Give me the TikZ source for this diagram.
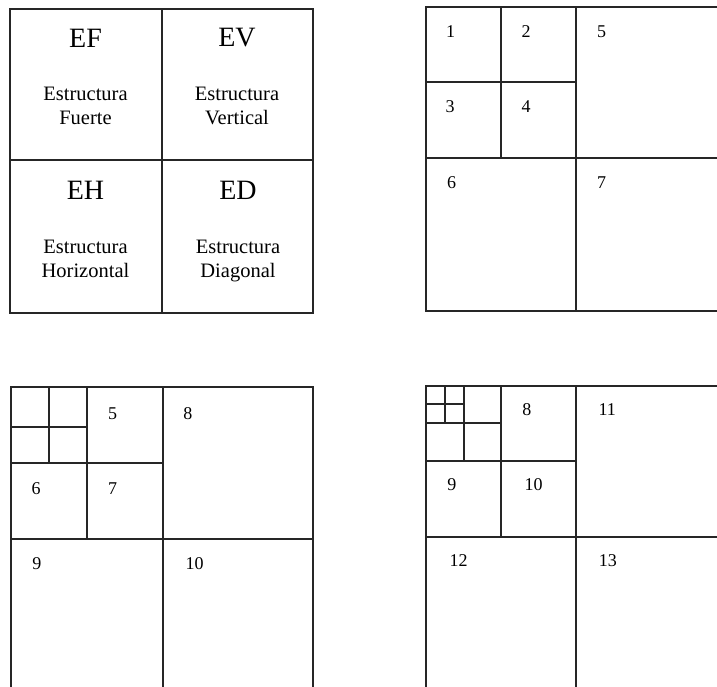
\documentclass[tikz,border=0pt]{standalone}
\usepackage{fontspec}
\setmainfont{Liberation Serif}
\begin{document}
\begin{tikzpicture}[x=1pt,y=-1pt,
  gridline/.style={line width=2pt, line cap=rect, draw=black!85},
  big/.style={font=\fontsize{28}{28}\selectfont, inner sep=0pt},
  sub/.style={font=\fontsize{20.5}{24}\selectfont, align=center, inner sep=0pt, anchor=north},
  num/.style={font=\fontsize{18}{18}\selectfont, anchor=west, inner sep=0pt}]
\clip (0,0) rectangle (717,686);
\fill[white] (0,0) rectangle (717,686);
% ---- top-left: four structures
\draw[gridline] (10,9) rectangle (313,313);
\draw[gridline] (162,9) -- (162,313);
\draw[gridline] (10,160) -- (313,160);
\node[big] (ef) at (85.5,38) {EF};
\node[big] (ev) at (237,38) {EV};
\node[big] (eh) at (85.5,190) {EH};
\node[big] (ed) at (238,190) {ED};
\node[sub] (ef2) at (85.5,87) {Estructura\\Fuerte};
\node[sub] (ev2) at (237,87) {Estructura\\Vertical};
\node[sub] (eh2) at (85.5,239.5) {Estructura\\Horizontal};
\node[sub] (ed2) at (238,239.5) {Estructura\\Diagonal};
% ---- top-right
\draw[gridline] (426,7) rectangle (726,311);
\draw[gridline] (576,7) -- (576,311);
\draw[gridline] (426,158) -- (726,158);
\draw[gridline] (501,7) -- (501,158);
\draw[gridline] (426,82) -- (576,82);
\node[num] (a1) at (446,32) {1};
\node[num] (a2) at (521.5,32) {2};
\node[num] (a5) at (597,32) {5};
\node[num] (a3) at (445.5,107) {3};
\node[num] (a4) at (521.5,107) {4};
\node[num] (a6) at (447,182.7) {6};
\node[num] (a7) at (597,182.7) {7};
% ---- bottom-left
\draw[gridline] (11,387) rectangle (313,690);
\draw[gridline] (163,387) -- (163,690);
\draw[gridline] (11,539) -- (313,539);
\draw[gridline] (87,387) -- (87,539);
\draw[gridline] (11,463) -- (163,463);
\draw[gridline] (49,387) -- (49,463);
\draw[gridline] (11,427) -- (87,427);
\node[num] (b5) at (107.8,413.3) {5};
\node[num] (b8) at (183.2,413.3) {8};
\node[num] (b6) at (31.5,488.3) {6};
\node[num] (b7) at (107.8,488.3) {7};
\node[num] (b9) at (32.2,563.3) {9};
\node[num] (b10) at (185.3,563.3) {10};
% ---- bottom-right
\draw[gridline] (426,386) rectangle (726,690);
\draw[gridline] (576,386) -- (576,690);
\draw[gridline] (426,537) -- (726,537);
\draw[gridline] (501,386) -- (501,537);
\draw[gridline] (426,461) -- (576,461);
\draw[gridline] (464,386) -- (464,461);
\draw[gridline] (426,423) -- (501,423);
\draw[gridline] (445,386) -- (445,423);
\draw[gridline] (426,404) -- (464,404);
\node[num] (c8) at (522.2,410) {8};
\node[num] (c11) at (598.3,410) {11};
\node[num] (c9) at (447.2,485) {9};
\node[num] (c10) at (524.3,485) {10};
\node[num] (c12) at (449.3,560.7) {12};
\node[num] (c13) at (598.7,560.7) {13};
\end{tikzpicture}
\end{document}
